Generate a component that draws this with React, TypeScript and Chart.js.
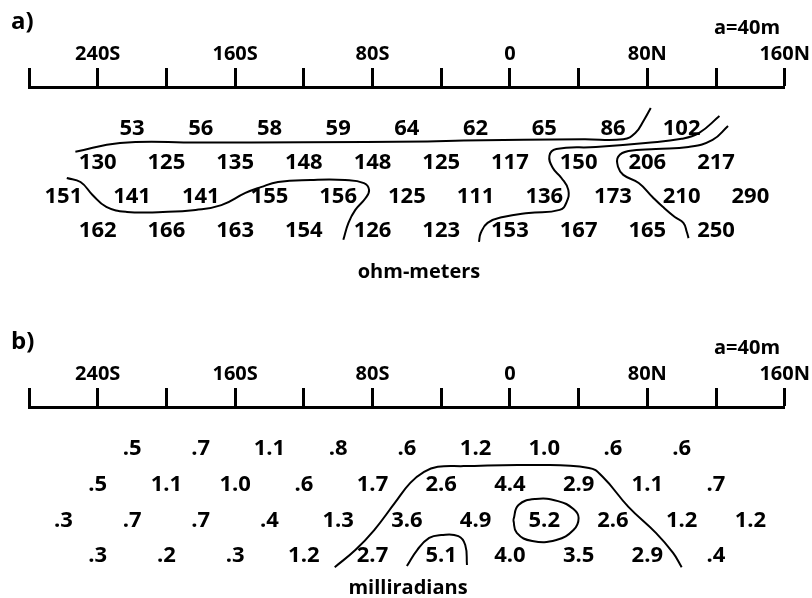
import React, { useEffect, useRef } from "react";
import { Chart, registerables } from "chart.js";

Chart.register(...registerables);

// ---- axis (station positions in metres, S negative / N positive) ----
const stationTicks = [-280, -240, -200, -160, -120, -80, -40, 0, 40, 80, 120, 160];
const stationTickLabels = ["", "240S", "", "160S", "", "80S", "", "0", "", "80N", "", "160N"];

// ---- plotting stations of each dipole separation level (n = 1..4) ----
const stationsN1 = [-220, -180, -140, -100, -60, -20, 20, 60, 100];
const stationsN2 = [-240, -200, -160, -120, -80, -40, 0, 40, 80, 120];
const stationsN3 = [-260, -220, -180, -140, -100, -60, -20, 20, 60, 100, 140];
const stationsN4 = [-240, -200, -160, -120, -80, -40, 0, 40, 80, 120];

// ---- a) apparent resistivity (ohm-meters) ----
const resistivityN1 = [53, 56, 58, 59, 64, 62, 65, 86, 102];
const resistivityN2 = [130, 125, 135, 148, 148, 125, 117, 150, 206, 217];
const resistivityN3 = [151, 141, 141, 155, 156, 125, 111, 136, 173, 210, 290];
const resistivityN4 = [162, 166, 163, 154, 126, 123, 153, 167, 165, 250];

// ---- b) phase (milliradians) ----
const phaseN1 = [0.5, 0.7, 1.1, 0.8, 0.6, 1.2, 1.0, 0.6, 0.6];
const phaseN2 = [0.5, 1.1, 1.0, 0.6, 1.7, 2.6, 4.4, 2.9, 1.1, 0.7];
const phaseN3 = [0.3, 0.7, 0.7, 0.4, 1.3, 3.6, 4.9, 5.2, 2.6, 1.2, 1.2];
const phaseN4 = [0.3, 0.2, 0.3, 1.2, 2.7, 5.1, 4.0, 3.5, 2.9, 0.4];

// ---- hand-drawn contour lines (x: metres, y: separation level n) ----
const resContourTop = [
  { x: -253, y: 1.67 }, { x: -227, y: 1.41 }, { x: -181, y: 1.4 }, { x: -120, y: 1.39 },
  { x: -48, y: 1.37 }, { x: -27, y: 1.34 }, { x: 43, y: 1.3 }, { x: 66, y: 1.3 },
  { x: 73, y: 1.12 }, { x: 78, y: 0.74 }, { x: 82, y: 0.38 },
];
const resContourWest = [
  { x: -258, y: 2.44 }, { x: -250, y: 2.56 }, { x: -243, y: 2.94 }, { x: -235, y: 3.29 },
  { x: -223, y: 3.44 }, { x: -202, y: 3.44 }, { x: -183, y: 3.38 }, { x: -168, y: 3.24 },
  { x: -154, y: 2.88 }, { x: -145, y: 2.71 }, { x: -135, y: 2.56 }, { x: -116, y: 2.5 },
  { x: -96, y: 2.5 }, { x: -85, y: 2.59 }, { x: -82, y: 2.79 }, { x: -84, y: 3.03 },
  { x: -90, y: 3.38 }, { x: -94, y: 3.76 }, { x: -97, y: 4.26 },
];
const resContourMid = [
  { x: 122, y: 0.62 }, { x: 110, y: 1.12 }, { x: 100, y: 1.29 }, { x: 79, y: 1.41 },
  { x: 50, y: 1.53 }, { x: 27, y: 1.59 }, { x: 23, y: 1.79 }, { x: 25, y: 2.15 },
  { x: 30, y: 2.44 }, { x: 34, y: 2.79 }, { x: 33, y: 3.15 }, { x: 29, y: 3.38 },
  { x: 11, y: 3.47 }, { x: -4, y: 3.59 }, { x: -13, y: 3.76 }, { x: -17, y: 4.06 },
  { x: -18, y: 4.32 },
];
const resContourEast = [
  { x: 127, y: 0.91 }, { x: 118, y: 1.32 }, { x: 104, y: 1.53 }, { x: 85, y: 1.59 },
  { x: 69, y: 1.65 }, { x: 63, y: 1.82 }, { x: 63, y: 2.12 }, { x: 66, y: 2.35 },
  { x: 75, y: 2.59 }, { x: 83, y: 3.0 }, { x: 89, y: 3.29 }, { x: 96, y: 3.59 },
  { x: 101, y: 3.76 }, { x: 103, y: 4.03 }, { x: 104, y: 4.21 },
];

const phaseContourOuter = [
  { x: -102, y: 4.31 }, { x: -90, y: 3.83 }, { x: -79, y: 3.27 }, { x: -67, y: 2.51 },
  { x: -58, y: 1.95 }, { x: -50, y: 1.64 }, { x: -42, y: 1.5 }, { x: -27, y: 1.48 },
  { x: 11, y: 1.45 }, { x: 46, y: 1.53 }, { x: 54, y: 1.78 }, { x: 69, y: 2.62 },
  { x: 85, y: 3.35 }, { x: 95, y: 3.91 }, { x: 100, y: 4.31 },
];
const phaseContourLoop = [
  { x: 2, y: 2.99 }, { x: 5, y: 2.57 }, { x: 15, y: 2.4 }, { x: 28, y: 2.46 },
  { x: 37, y: 2.68 }, { x: 40, y: 2.93 }, { x: 37, y: 3.27 }, { x: 27, y: 3.55 },
  { x: 13, y: 3.58 }, { x: 4, y: 3.35 }, { x: 2, y: 2.99 },
];
const phaseContourLow = [
  { x: -60, y: 4.28 }, { x: -54, y: 3.83 }, { x: -47, y: 3.49 }, { x: -40, y: 3.41 },
  { x: -30, y: 3.44 }, { x: -26, y: 3.69 }, { x: -25, y: 4.25 },
];

const FONT = '"Open Sans", "DejaVu Sans", sans-serif';

type Row = { stations: number[]; values: number[] };

type PanelProps = {
  letter: string;
  unit: string;
  unitX: number;
  unitY: number;
  height: number;
  yMin: number;
  yMax: number;
  rows: Row[];
  contours: { x: number; y: number }[][];
  format: (v: number) => string;
};

function Panel(props: PanelProps) {
  const ref = useRef<HTMLCanvasElement | null>(null);

  useEffect(() => {
    const canvas = ref.current;
    if (!canvas) return;

    const textPlugin = {
      id: "pseudoText",
      afterDatasetsDraw(chart: any) {
        const { ctx } = chart;
        const xs = chart.scales.x;
        const ys = chart.scales.y;
        ctx.save();
        ctx.fillStyle = "#000";
        ctx.textAlign = "center";
        ctx.textBaseline = "middle";
        ctx.font = `bold 22px ${FONT}`;
        props.rows.forEach((row, i) => {
          row.values.forEach((v, j) => {
            ctx.fillText(props.format(v), xs.getPixelForValue(row.stations[j]), ys.getPixelForValue(i + 1));
          });
        });
        ctx.font = `bold 20px ${FONT}`;
        ctx.fillText(props.unit, props.unitX, props.unitY);
        ctx.textAlign = "left";
        ctx.font = `bold 24px ${FONT}`;
        ctx.fillText(props.letter, 11, 22);
        ctx.font = `bold 20px ${FONT}`;
        ctx.fillText("a=40m", 714, 28);
        ctx.restore();
      },
    };

    const chart = new Chart(canvas, {
      type: "line",
      data: {
        datasets: props.contours.map((c) => ({
          data: c,
          borderColor: "#000",
          borderWidth: 2,
          pointRadius: 0,
          tension: 0.45,
          fill: false,
        })),
      },
      options: {
        animation: false,
        responsive: false,
        events: [],
        layout: { padding: { left: 29, right: 22, top: 0, bottom: 0 } },
        plugins: { legend: { display: false }, tooltip: { enabled: false }, title: { display: false } },
        scales: {
          x: {
            type: "linear",
            position: "top",
            min: -280,
            max: 160,
            afterBuildTicks: (axis: any) => {
              axis.ticks = stationTicks.map((v) => ({ value: v }));
            },
            afterFit: (axis: any) => {
              axis.height = 87;
            },
            ticks: {
              autoSkip: false,
              maxRotation: 0,
              padding: 2,
              color: "#000",
              font: { family: FONT, weight: "bold", size: 20 },
              callback: (value: any) => {
                const i = stationTicks.indexOf(Number(value));
                return i >= 0 ? stationTickLabels[i] : "";
              },
            },
            grid: {
              drawOnChartArea: false,
              drawTicks: true,
              tickLength: 19,
              tickWidth: 3,
              tickColor: "#000",
            },
            border: { display: true, color: "#000", width: 3 },
          },
          y: {
            type: "linear",
            display: false,
            reverse: true,
            min: props.yMin,
            max: props.yMax,
          },
        },
      },
      plugins: [textPlugin],
    } as any);

    return () => chart.destroy();
  }, []);

  return <canvas ref={ref} width={812} height={props.height} style={{ display: "block" }} />;
}

const fmtRes = (v: number) => String(v);
const fmtPhase = (v: number) => {
  const s = v.toFixed(1);
  return s.startsWith("0") ? s.slice(1) : s;
};

export default function App() {
  return (
    <div style={{ position: "fixed", left: 0, top: 0, width: 812, height: 598, background: "#fff" }}>
      <Panel
        letter="a)"
        unit="ohm-meters"
        unitX={419}
        unitY={272}
        height={320}
        yMin={-0.2353}
        yMax={6.618}
        rows={[
          { stations: stationsN1, values: resistivityN1 },
          { stations: stationsN2, values: resistivityN2 },
          { stations: stationsN3, values: resistivityN3 },
          { stations: stationsN4, values: resistivityN4 },
        ]}
        contours={[resContourTop, resContourWest, resContourMid, resContourEast]}
        format={fmtRes}
      />
      <Panel
        letter="b)"
        unit="milliradians"
        unitX={408}
        unitY={268}
        height={278}
        yMin={-0.176}
        yMax={5.174}
        rows={[
          { stations: stationsN1, values: phaseN1 },
          { stations: stationsN2, values: phaseN2 },
          { stations: stationsN3, values: phaseN3 },
          { stations: stationsN4, values: phaseN4 },
        ]}
        contours={[phaseContourOuter, phaseContourLoop, phaseContourLow]}
        format={fmtPhase}
      />
    </div>
  );
}
